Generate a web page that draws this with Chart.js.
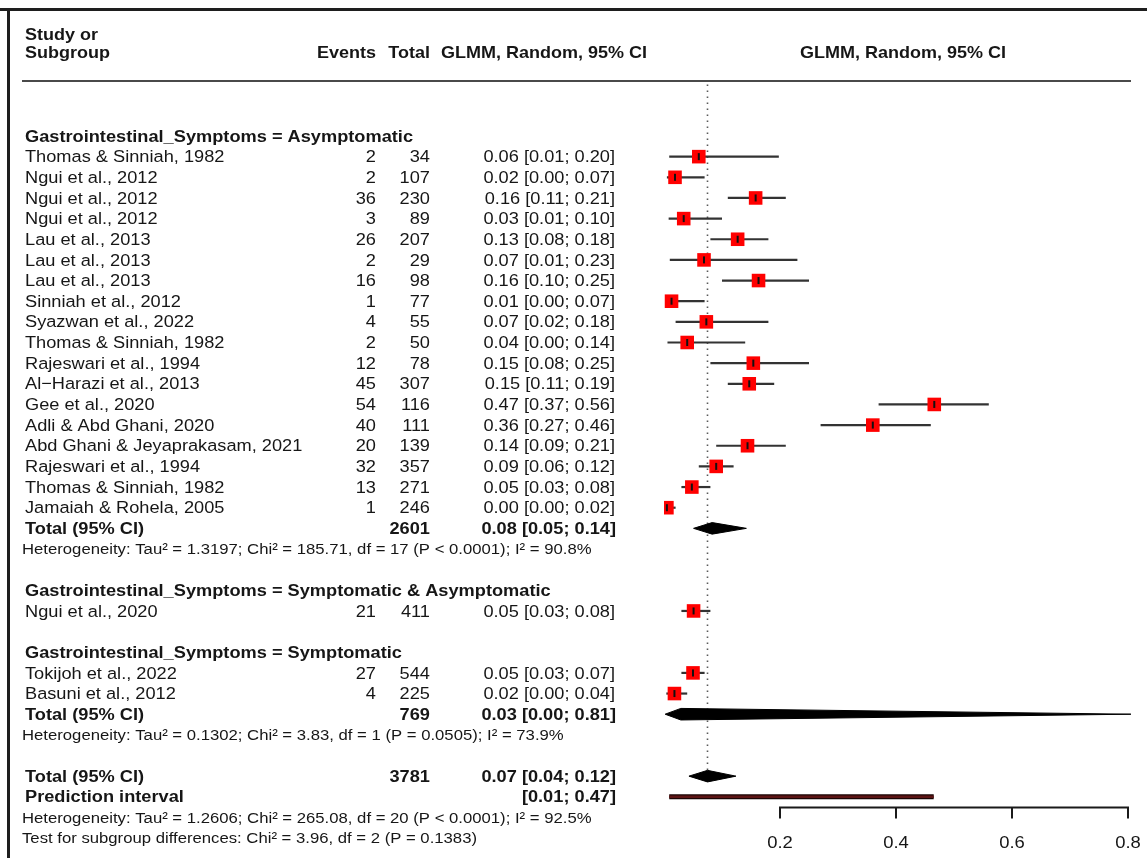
<!DOCTYPE html>
<html>
<head>
<meta charset="utf-8">
<style>
  html, body { margin: 0; padding: 0; background: #ffffff; }
  #wrap { width: 1147px; height: 858px; position: relative; }
</style>
<script src="https://cdn.jsdelivr.net/npm/chart.js@4.4.1/dist/chart.umd.min.js"></script>
</head>
<body>
<div id="wrap"><canvas id="c" width="1147" height="858"></canvas></div>
<script>
// ---------------- DATA ----------------
const groupTitles = [
  'Gastrointestinal_Symptoms = Asymptomatic',
  'Gastrointestinal_Symptoms = Symptomatic & Asymptomatic',
  'Gastrointestinal_Symptoms = Symptomatic'
];
const studyNames = [
  'Thomas & Sinniah, 1982', 'Ngui et al., 2012', 'Ngui et al., 2012', 'Ngui et al., 2012',
  'Lau et al., 2013', 'Lau et al., 2013', 'Lau et al., 2013', 'Sinniah et al., 2012',
  'Syazwan et al., 2022', 'Thomas & Sinniah, 1982', 'Rajeswari et al., 1994', 'Al\u2212Harazi et al., 2013',
  'Gee et al., 2020', 'Adli & Abd Ghani, 2020', 'Abd Ghani & Jeyaprakasam, 2021', 'Rajeswari et al., 1994',
  'Thomas & Sinniah, 1982', 'Jamaiah & Rohela, 2005',
  'Ngui et al., 2020',
  'Tokijoh et al., 2022', 'Basuni et al., 2012'
];
const studyGroup  = [0,0,0,0,0,0,0,0,0,0,0,0,0,0,0,0,0,0, 1, 2,2];
const studyEvents = [2,2,36,3,26,2,16,1,4,2,12,45,54,40,20,32,13,1, 21, 27,4];
const studyTotals = [34,107,230,89,207,29,98,77,55,50,78,307,116,111,139,357,271,246, 411, 544,225];
const studyEst    = [0.060,0.019,0.158,0.034,0.127,0.069,0.163,0.013,0.073,0.040,0.154,0.147,0.466,0.360,0.144,0.090,0.048,0.005, 0.051, 0.050,0.018];
const studyLower  = [0.009,0.005,0.11,0.008,0.08,0.01,0.10,0.002,0.02,0.006,0.08,0.11,0.37,0.27,0.09,0.06,0.03,0.001, 0.03, 0.03,0.004];
const studyUpper  = [0.198,0.07,0.21,0.10,0.18,0.23,0.25,0.07,0.18,0.14,0.25,0.19,0.56,0.46,0.21,0.12,0.08,0.02, 0.08, 0.07,0.04];
const studyLabels = [
  '0.06 [0.01; 0.20]','0.02 [0.00; 0.07]','0.16 [0.11; 0.21]','0.03 [0.01; 0.10]',
  '0.13 [0.08; 0.18]','0.07 [0.01; 0.23]','0.16 [0.10; 0.25]','0.01 [0.00; 0.07]',
  '0.07 [0.02; 0.18]','0.04 [0.00; 0.14]','0.15 [0.08; 0.25]','0.15 [0.11; 0.19]',
  '0.47 [0.37; 0.56]','0.36 [0.27; 0.46]','0.14 [0.09; 0.21]','0.09 [0.06; 0.12]',
  '0.05 [0.03; 0.08]','0.00 [0.00; 0.02]',
  '0.05 [0.03; 0.08]',
  '0.05 [0.03; 0.07]','0.02 [0.00; 0.04]'
];
// subgroup pooled results (null = no pooled row)
const groupTotalN   = ['2601', null, '769'];
const groupEst      = [0.083, null, 0.029];
const groupLower    = [0.051, null, 0.002];
const groupUpper    = [0.142, null, 0.805];
const groupLabels   = ['0.08 [0.05; 0.14]', null, '0.03 [0.00; 0.81]'];
const groupHetText  = [
  'Heterogeneity: Tau\u00b2 = 1.3197; Chi\u00b2 = 185.71, df = 17 (P < 0.0001); I\u00b2 = 90.8%',
  null,
  'Heterogeneity: Tau\u00b2 = 0.1302; Chi\u00b2 = 3.83, df = 1 (P = 0.0505); I\u00b2 = 73.9%'
];
// overall
const overallN     = '3781';
const overallEst   = 0.075;
const overallLower = 0.043;
const overallUpper = 0.124;
const overallLabel = '0.07 [0.04; 0.12]';
const predLower    = 0.009;
const predUpper    = 0.465;
const predLabel    = '[0.01; 0.47]';
const overallHetText = 'Heterogeneity: Tau\u00b2 = 1.2606; Chi\u00b2 = 265.08, df = 20 (P < 0.0001); I\u00b2 = 92.5%';
const subgroupTestText = 'Test for subgroup differences: Chi\u00b2 = 3.96, df = 2 (P = 0.1383)';
// axis
const axisTicks = [0.2, 0.4, 0.6, 0.8];
const axisTickLabels = ['0.2', '0.4', '0.6', '0.8'];
const headerCols = ['Events', 'Total', 'GLMM, Random, 95% CI', 'GLMM, Random, 95% CI'];

// ---------------- LAYOUT (row indices) ----------------
const rows = [];
let r = 0;
for (let g = 0; g < groupTitles.length; g++) {
  rows.push({ kind: 'group', row: r++, g });
  for (let i = 0; i < studyNames.length; i++) {
    if (studyGroup[i] === g) rows.push({ kind: 'study', row: r++, i });
  }
  if (groupTotalN[g] !== null) {
    rows.push({ kind: 'gtotal', row: r++, g });
    rows.push({ kind: 'ghet', row: r++, g });
  }
  r++; // blank line
}
const overallRow = r;
rows.push({ kind: 'ototal', row: r++ });
rows.push({ kind: 'pred', row: r++ });
rows.push({ kind: 'ohet', row: r++ });
rows.push({ kind: 'test', row: r++ });
const studyRow = {};
rows.forEach(o => { if (o.kind === 'study') studyRow[o.i] = o.row; });
const groupTotalRow = {};
rows.forEach(o => { if (o.kind === 'gtotal') groupTotalRow[o.g] = o.row; });
const predRow = overallRow + 1;

// ---------------- STYLE ----------------
const ROW_PX = 20.65;
const FIRST_ROW_PX = 136;
const CANVAS_H = 858;
const DIAMOND_HALF = 0.28; // rows
const FONT = '"Liberation Sans", Arial, Helvetica, sans-serif';
const TEXT_COL = '#161616';
const SX = 1.085; // horizontal text stretch of the reference

// ---------------- DATASETS ----------------
const datasets = [];
datasets.push({
  type: 'scatter', order: 0,
  data: studyEst.map((v, i) => ({ x: v, y: studyRow[i] })),
  pointStyle: 'line', rotation: 90, radius: 3.5, borderWidth: 2,
  borderColor: '#111', backgroundColor: '#111'
});
datasets.push({
  type: 'scatter', order: 1,
  data: studyEst.map((v, i) => ({ x: v, y: studyRow[i] })),
  pointStyle: 'rect', radius: 9.6, borderWidth: 0,
  backgroundColor: '#ff0000', borderColor: '#ff0000'
});
studyEst.forEach((v, i) => {
  datasets.push({
    type: 'line', order: 2,
    data: [{ x: studyLower[i], y: studyRow[i] }, { x: studyUpper[i], y: studyRow[i] }],
    borderColor: '#333333', borderWidth: 2.2, pointRadius: 0, fill: false
  });
});
function diamond(lo, est, hi, row) {
  return [
    { x: lo, y: row }, { x: est, y: row - DIAMOND_HALF }, { x: hi, y: row },
    { x: est, y: row + DIAMOND_HALF }, { x: lo, y: row }
  ];
}
for (let g = 0; g < groupTitles.length; g++) {
  if (groupEst[g] === null) continue;
  datasets.push({
    type: 'line', order: 2,
    data: diamond(groupLower[g], groupEst[g], groupUpper[g], groupTotalRow[g]),
    borderColor: '#000', backgroundColor: '#000', borderWidth: 1,
    pointRadius: 0, fill: 'shape', tension: 0
  });
}
datasets.push({
  type: 'line', order: 2,
  data: diamond(overallLower, overallEst, overallUpper, overallRow),
  borderColor: '#000', backgroundColor: '#000', borderWidth: 1,
  pointRadius: 0, fill: 'shape', tension: 0
});
datasets.push({
  type: 'line', order: 1,
  data: [{ x: predLower, y: predRow }, { x: predUpper, y: predRow }],
  borderColor: '#5c1414', borderWidth: 2.5, pointRadius: 0, fill: false, borderCapStyle: 'butt'
});
datasets.push({
  type: 'line', order: 2,
  data: [{ x: predLower, y: predRow }, { x: predUpper, y: predRow }],
  borderColor: '#1a0505', borderWidth: 5, pointRadius: 0, fill: false, borderCapStyle: 'butt'
});
datasets.push({
  type: 'line', order: 5,
  data: [{ x: overallEst, y: -2.5 }, { x: overallEst, y: overallRow + 0.3 }],
  borderColor: '#5a5a5a', borderWidth: 1.6, borderDash: [1.6, 4.4], pointRadius: 0, fill: false
});

// ---------------- PLUGIN: frame, axis, text ----------------
function txt(ctx, s, x, y, align, font) {
  ctx.save();
  ctx.font = font;
  ctx.textAlign = align;
  ctx.textBaseline = 'middle';
  ctx.translate(x, y);
  ctx.scale(SX, 1);
  ctx.fillText(s, 0, 0);
  ctx.restore();
}
const forestDecor = {
  id: 'forestDecor',
  beforeDatasetsDraw(chart) {
    const ctx = chart.ctx;
    ctx.save();
    ctx.fillStyle = '#1e1e1e';
    ctx.fillRect(0, 8, 1147, 3);
    ctx.fillRect(7, 8, 3, 850);
    ctx.fillStyle = '#4a4a4a';
    ctx.fillRect(22, 80, 1109, 2);
    ctx.restore();
  },
  afterDraw(chart) {
    const ctx = chart.ctx;
    const xs = chart.scales.x, ys = chart.scales.y;
    ctx.save();
    const axisY = Math.round(ys.getPixelForValue(overallRow + 1.5)) + 0.5;
    const x0 = xs.getPixelForValue(axisTicks[0]);
    const x1 = xs.getPixelForValue(axisTicks[axisTicks.length - 1]);
    ctx.strokeStyle = '#1a1a1a';
    ctx.lineWidth = 2;
    ctx.beginPath();
    ctx.moveTo(x0, axisY); ctx.lineTo(x1, axisY);
    axisTicks.forEach(t => {
      const px = xs.getPixelForValue(t);
      ctx.moveTo(px, axisY - 1); ctx.lineTo(px, axisY + 11);
    });
    ctx.stroke();
    ctx.fillStyle = TEXT_COL;
    axisTicks.forEach((t, k) => txt(ctx, axisTickLabels[k], xs.getPixelForValue(t), axisY + 36, 'center', '17px ' + FONT));

    const hb = 'bold 16.6px ' + FONT;
    txt(ctx, 'Study or', 25, 35, 'left', hb);
    txt(ctx, 'Subgroup', 25, 53, 'left', hb);
    txt(ctx, headerCols[0], 376, 53, 'right', hb);
    txt(ctx, headerCols[1], 430, 53, 'right', hb);
    txt(ctx, headerCols[2], 544, 53, 'center', hb);
    txt(ctx, headerCols[3], 903, 53, 'center', hb);

    const reg = '16.8px ' + FONT, bold = 'bold 16.8px ' + FONT, small = '15.4px ' + FONT;
    rows.forEach(o => {
      const y = ys.getPixelForValue(o.row) + 1;
      if (o.kind === 'group') {
        txt(ctx, groupTitles[o.g], 25, y, 'left', bold);
      } else if (o.kind === 'study') {
        txt(ctx, studyNames[o.i], 25, y, 'left', reg);
        txt(ctx, String(studyEvents[o.i]), 376, y, 'right', reg);
        txt(ctx, String(studyTotals[o.i]), 430, y, 'right', reg);
        txt(ctx, studyLabels[o.i], 615, y, 'right', reg);
      } else if (o.kind === 'gtotal' || o.kind === 'ototal') {
        txt(ctx, 'Total (95% CI)', 25, y, 'left', bold);
        txt(ctx, o.kind === 'gtotal' ? groupTotalN[o.g] : overallN, 430, y, 'right', bold);
        txt(ctx, o.kind === 'gtotal' ? groupLabels[o.g] : overallLabel, 616, y, 'right', bold);
      } else if (o.kind === 'ghet') {
        txt(ctx, groupHetText[o.g], 22, y, 'left', small);
      } else if (o.kind === 'pred') {
        txt(ctx, 'Prediction interval', 25, y, 'left', bold);
        txt(ctx, predLabel, 616, y, 'right', bold);
      } else if (o.kind === 'ohet') {
        txt(ctx, overallHetText, 22, y, 'left', small);
      } else if (o.kind === 'test') {
        txt(ctx, subgroupTestText, 22, y, 'left', small);
      }
    });
    ctx.restore();
  }
};

new Chart(document.getElementById('c'), {
  type: 'scatter',
  data: { datasets },
  options: {
    responsive: false,
    animation: false,
    devicePixelRatio: 1,
    layout: { autoPadding: false, padding: { left: 664, right: 6, top: 0, bottom: 0 } },
    plugins: { legend: { display: false }, tooltip: { enabled: false } },
    scales: {
      x: { type: 'linear', display: false, min: 0, max: 477 / 580 },
      y: { type: 'linear', display: false, reverse: true,
           min: -FIRST_ROW_PX / ROW_PX, max: (CANVAS_H - FIRST_ROW_PX) / ROW_PX }
    }
  },
  plugins: [forestDecor]
});
</script>
</body>
</html>
